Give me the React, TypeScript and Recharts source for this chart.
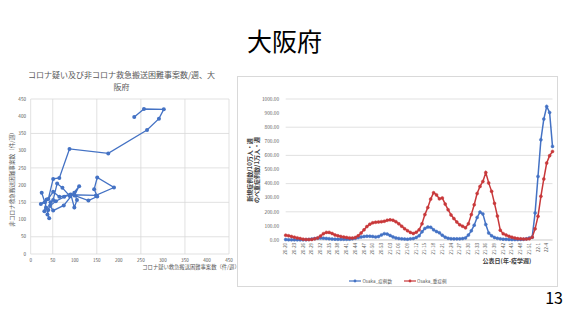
import { CartesianGrid, Legend, Line, LineChart, Scatter, ScatterChart, XAxis, YAxis } from "recharts"

const FONT = '"Noto Sans CJK JP", "Noto Sans", sans-serif'
const BLUE = "#4472c4"
const RED = "#c8383a"
const GRID = "#d9d9d9"
const TEXT = "#595959"

// left panel: コロナ疑い (x) vs 非コロナ (y) transports per week, in time order
const suspectedCovid = [
  25, 32, 23, 36, 31, 35, 42, 38, 40, 45, 51, 60, 72, 89, 99, 105, 99, 91, 76, 57, 44, 51,
  75, 110, 99, 131, 151, 144, 151, 189, 148, 89, 65, 51, 40, 51, 65, 88, 176, 264, 291, 302,
  257, 235,
]
const nonCovid = [
  178, 150, 145, 158, 124, 135, 104, 115, 128, 150, 157, 205, 192, 168, 178, 157, 135, 173,
  166, 153, 140, 126, 141, 197, 170, 155, 167, 188, 222, 193, 170, 172, 166, 181, 160, 218,
  221, 305, 292, 360, 393, 420, 421, 398,
]
const transportTicks = [0, 50, 100, 150, 200, 250, 300, 350, 400, 450]

// right panel: weekly rates by 年-疫学週
const weeks = [
  "20-20", "20-21", "20-22", "20-23", "20-24", "20-25", "20-26", "20-27", "20-28", "20-29",
  "20-30", "20-31", "20-32", "20-33", "20-34", "20-35", "20-36", "20-37", "20-38", "20-39",
  "20-40", "20-41", "20-42", "20-43", "20-44", "20-45", "20-46", "20-47", "20-48", "20-49",
  "20-50", "20-51", "20-52", "20-53", "21-01", "21-02", "21-03", "21-04", "21-05", "21-06",
  "21-07", "21-08", "21-09", "21-10", "21-11", "21-12", "21-13", "21-14", "21-15", "21-16",
  "21-17", "21-18", "21-19", "21-20", "21-21", "21-22", "21-23", "21-24", "21-25", "21-26",
  "21-27", "21-28", "21-29", "21-30", "21-31", "21-32", "21-33", "21-34", "21-35", "21-36",
  "21-37", "21-38", "21-39", "21-40", "21-41", "21-42", "21-43", "21-44", "21-45", "21-46",
  "21-47", "21-48", "21-49", "21-50", "21-51", "21-52", "21-53", "22-1", "22-2", "22-3",
  "22-4", "22-5", "22-6",
]
const osakaCases = [
  3, 2, 1, 1, 1, 1, 1, 2, 4, 7, 10, 13, 14, 13, 11, 9, 7, 6, 5, 5,
  5, 5, 6, 8, 12, 17, 22, 25, 27, 27, 25, 22, 24, 36, 45, 42, 32, 22, 15, 11,
  8, 7, 6, 8, 10, 18, 30, 58, 82, 92, 90, 72, 60, 51, 34, 20, 12, 9, 8, 8,
  8, 10, 15, 35, 65, 105, 160, 198, 185, 110, 50, 30, 18, 12, 8, 6, 5, 4, 3, 3,
  3, 4, 5, 8, 15, 20, 192, 451, 711, 858, 947, 904, 664,
]
const osakaSevere = [
  34, 30, 25, 20, 15, 10, 6, 4, 3, 4, 8, 15, 28, 45, 54, 54, 46, 36, 30, 25,
  21, 18, 15, 14, 18, 30, 50, 72, 95, 112, 122, 126, 128, 130, 133, 140, 143, 140, 130, 115,
  98, 80, 66, 54, 46, 55, 72, 115, 180, 230, 290, 335, 320, 292, 298, 255, 215, 178, 152, 128,
  108, 98, 86, 115, 180, 250, 330, 380, 415, 478, 405, 345, 260, 170, 70, 45, 35, 26, 20, 14,
  10, 8, 7, 7, 9, 20, 79, 168, 310, 433, 546, 598, 628,
]
const rateTicks = [0, 100, 200, 300, 400, 500, 600, 700, 800, 900, 1000]

const transportData = suspectedCovid.map((x, i) => ({ x, y: nonCovid[i] }))
const weeklyData = weeks.map((week, i) => ({ week, cases: osakaCases[i], severe: osakaSevere[i] }))

const WeekTick = ({ x, y, payload }: any) => (
  <text
    x={x}
    y={y}
    transform={`rotate(-90 ${x} ${y})`}
    textAnchor="end"
    dy={1.6}
    fontSize={4.6}
    fill={TEXT}
    fontFamily={FONT}
  >
    {payload.value}
  </text>
)

const Dot = ({ cx, cy }: any) => <circle cx={cx} cy={cy} r={2} fill={BLUE} />

const LegendRow = (props: any) => (
  <div
    style={{
      display: "flex",
      justifyContent: "center",
      gap: 12,
      fontSize: 4.6,
      lineHeight: "8px",
      color: TEXT,
      fontFamily: FONT,
    }}
  >
    {props.payload.map((item: any) => (
      <span key={item.value} style={{ display: "flex", alignItems: "center" }}>
        <svg width={12} height={4}>
          <line x1={0} y1={2} x2={12} y2={2} stroke={item.color} strokeWidth={1.2} />
          <circle cx={6} cy={2} r={1.4} fill={item.color} />
        </svg>
        <span style={{ marginLeft: 1 }}>{item.value}</span>
      </span>
    ))}
  </div>
)

function VerticalText({ cx, cy, width, children, style }: any) {
  return (
    <div
      style={{
        position: "absolute",
        left: cx - width / 2,
        top: cy - 10,
        width,
        height: 20,
        display: "flex",
        flexDirection: "column",
        justifyContent: "center",
        textAlign: "center",
        transform: "rotate(-90deg)",
        whiteSpace: "nowrap",
        fontFamily: FONT,
        ...style,
      }}
    >
      {children}
    </div>
  )
}

export default function App() {
  return (
    <div
      style={{
        position: "fixed",
        left: 0,
        top: 0,
        width: 569,
        height: 320,
        background: "#fff",
        overflow: "hidden",
        fontFamily: FONT,
      }}
    >
      <div
        style={{
          position: "absolute",
          left: 0,
          top: 28,
          width: 569,
          textAlign: "center",
          fontSize: 25,
          lineHeight: "25px",
          color: "#000",
        }}
      >
        大阪府
      </div>

      {/* left chart */}
      <div
        style={{
          position: "absolute",
          left: 10,
          top: 69,
          width: 223,
          textAlign: "center",
          fontSize: 8,
          lineHeight: "12px",
          color: TEXT,
          whiteSpace: "nowrap",
        }}
      >
        コロナ疑い及び非コロナ救急搬送困難事案数/週、大
        <br />
        阪府
      </div>
      <VerticalText cx={12} cy={178} width={130} style={{ fontSize: 5.6, color: TEXT }}>
        非コロナ救急搬送困難事案数（件/週）
      </VerticalText>
      <div
        style={{
          position: "absolute",
          left: 131,
          top: 263,
          width: 120,
          textAlign: "center",
          fontSize: 5.3,
          lineHeight: "8px",
          color: TEXT,
          whiteSpace: "nowrap",
        }}
      >
        コロナ疑い救急搬送困難事案数（件/週）
      </div>
      <div style={{ position: "absolute", left: 0, top: 60 }}>
        <ScatterChart width={237} height={215} margin={{ top: 39, right: 8, bottom: 0, left: 0 }}>
          <CartesianGrid stroke={GRID} strokeWidth={0.8} />
          <XAxis
            type="number"
            dataKey="x"
            domain={[0, 450]}
            ticks={transportTicks}
            height={21}
            axisLine={false}
            tickLine={false}
            tickSize={0}
            tickMargin={4.5}
            tick={{ fontSize: 4.6, fill: TEXT, fontFamily: FONT }}
          />
          <YAxis
            type="number"
            dataKey="y"
            domain={[0, 450]}
            ticks={transportTicks}
            width={30.7}
            axisLine={false}
            tickLine={false}
            tickSize={0}
            tickMargin={4.7}
            tick={{ fontSize: 4.6, fill: TEXT, fontFamily: FONT }}
          />
          <Scatter
            data={transportData}
            fill={BLUE}
            shape={Dot}
            line={{ stroke: BLUE, strokeWidth: 1.3 }}
            lineType="joint"
            isAnimationActive={false}
          />
        </ScatterChart>
      </div>

      {/* right chart */}
      <div
        style={{
          position: "absolute",
          left: 237,
          top: 76,
          width: 321,
          height: 211,
          border: `1px solid ${GRID}`,
          boxSizing: "border-box",
        }}
      />
      <VerticalText cx={252.5} cy={170} width={110} style={{ fontSize: 6, lineHeight: "7px", color: "#404040", fontWeight: 700 }}>
        <div>新規症例数/10万人・週</div>
        <div>のべ重症例数/1万人・週</div>
      </VerticalText>
      <div
        style={{
          position: "absolute",
          left: 467,
          top: 256,
          width: 80,
          textAlign: "center",
          fontSize: 6,
          lineHeight: "9px",
          color: "#404040",
          fontWeight: 700,
          whiteSpace: "nowrap",
        }}
      >
        公表日(年-疫学週)
      </div>
      <div style={{ position: "absolute", left: 237, top: 76 }}>
        <LineChart width={322} height={212} data={weeklyData} margin={{ top: 23, right: 6.5, bottom: 0, left: 0 }}>
          <CartesianGrid stroke={GRID} strokeWidth={0.8} vertical={false} />
          <XAxis
            dataKey="week"
            interval={2}
            height={48}
            axisLine={{ stroke: GRID }}
            tickLine={false}
            tickSize={0}
            tickMargin={3}
            tick={<WeekTick />}
          />
          <YAxis
            domain={[0, 1000]}
            ticks={rateTicks}
            width={48.7}
            axisLine={false}
            tickLine={false}
            tickSize={0}
            tickMargin={6.5}
            tickFormatter={(v: number) => v.toFixed(2)}
            tick={{ fontSize: 4.8, fill: TEXT, fontFamily: FONT }}
          />
          <Legend
            verticalAlign="middle"
            align="center"
            layout="horizontal"
            wrapperStyle={{ top: 201, left: 0, width: 322 }}
            content={LegendRow}
          />
          <Line
            name="Osaka_症例数"
            dataKey="cases"
            stroke={BLUE}
            strokeWidth={1.5}
            dot={{ r: 1.5, fill: BLUE, stroke: BLUE, strokeWidth: 0.5 }}
            isAnimationActive={false}
          />
          <Line
            name="Osaka_重症例"
            dataKey="severe"
            stroke={RED}
            strokeWidth={1.5}
            dot={{ r: 1.5, fill: RED, stroke: RED, strokeWidth: 0.5 }}
            isAnimationActive={false}
          />
        </LineChart>
      </div>

      <div
        style={{
          position: "absolute",
          left: 540,
          top: 288.5,
          width: 23,
          textAlign: "right",
          fontSize: 16,
          lineHeight: "16px",
          color: "#000",
        }}
      >
        13
      </div>
    </div>
  )
}
